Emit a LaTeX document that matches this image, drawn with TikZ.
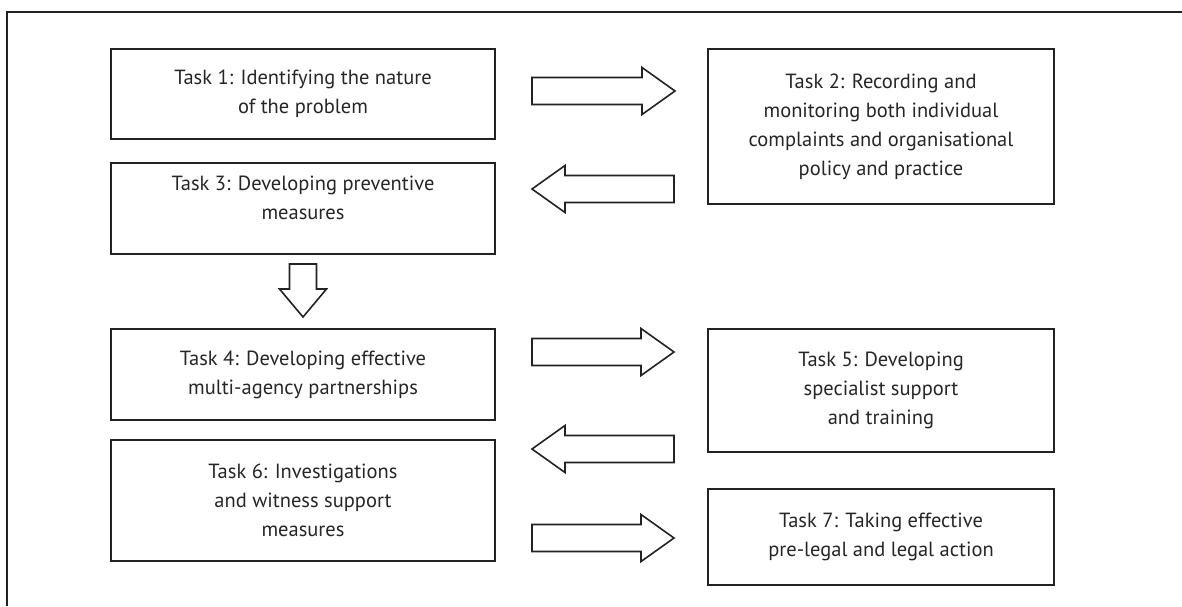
\documentclass[tikz,border=0pt]{standalone}
\usepackage{fontspec}
\setmainfont{PT Sans}
\usepackage{tikz}
\definecolor{linecol}{rgb}{0.14,0.13,0.13}
\definecolor{textcol}{rgb}{0.15,0.15,0.15}
\tikzset{
  taskbox/.style={draw=linecol, line width=1.6pt, text=textcol, align=center,
    inner sep=0pt, font=\fontsize{20.5}{29}\selectfont},
  arrowline/.style={draw=linecol, line width=1.6pt, line join=miter},
}
% block arrow: tail coordinate, length, direction
\newcommand{\blockarrow}[4][33]{%
  \draw[arrowline, shift={(#2)}, rotate=#4] (0,13.5) -- (#3-#1,13.5) -- (#3-#1,23.5)
    -- (#3,0) -- (#3-#1,-23.5) -- (#3-#1,-13.5) -- (0,-13.5) -- cycle;}

\begin{document}
\begin{tikzpicture}[x=1pt, y=-1pt]
\useasboundingbox (0,0) rectangle (1182,606);
\draw[arrowline] (7,606) -- (7,12) -- (1182,12);
% left column
\node[taskbox, minimum width=384pt, minimum height=90pt] (task1) at (303,94)
  {Task 1: Identifying the nature\\of the problem};
\node[taskbox, minimum width=384pt, minimum height=91pt, text depth=22pt] (task3) at (303,208.5)
  {Task 3: Developing preventive\\measures};
\node[taskbox, minimum width=384pt, minimum height=91pt] (task4) at (303,374.5)
  {Task 4: Developing effective\\multi-agency partnerships};
\node[taskbox, minimum width=384pt, minimum height=121pt] (task6) at (303,500.5)
  {Task 6: Investigations\\and witness support\\measures};
% right column
\node[taskbox, minimum width=346pt, minimum height=155pt] (task2) at (881,126.5)
  {Task 2: Recording and\\monitoring both individual\\complaints and organisational\\policy and practice};
\node[taskbox, minimum width=346pt, minimum height=123pt] (task5) at (881,390.5)
  {Task 5: Developing\\specialist support\\and training};
\node[taskbox, minimum width=346pt, minimum height=96pt] (task7) at (881,537)
  {Task 7: Taking effective\\pre-legal and legal action};
% arrows
\coordinate (a12) at (532,91);
\coordinate (a23) at (674,189);
\coordinate (a34) at (303,264);
\coordinate (a45) at (532,352);
\coordinate (a56) at (674,449);
\coordinate (a67) at (532,538);
\blockarrow{a12}{143}{0}
\blockarrow{a23}{142}{180}
\blockarrow[28]{a34}{53}{-90}
\blockarrow{a45}{142}{0}
\blockarrow{a56}{142}{180}
\blockarrow{a67}{142}{0}
\end{tikzpicture}
\end{document}
